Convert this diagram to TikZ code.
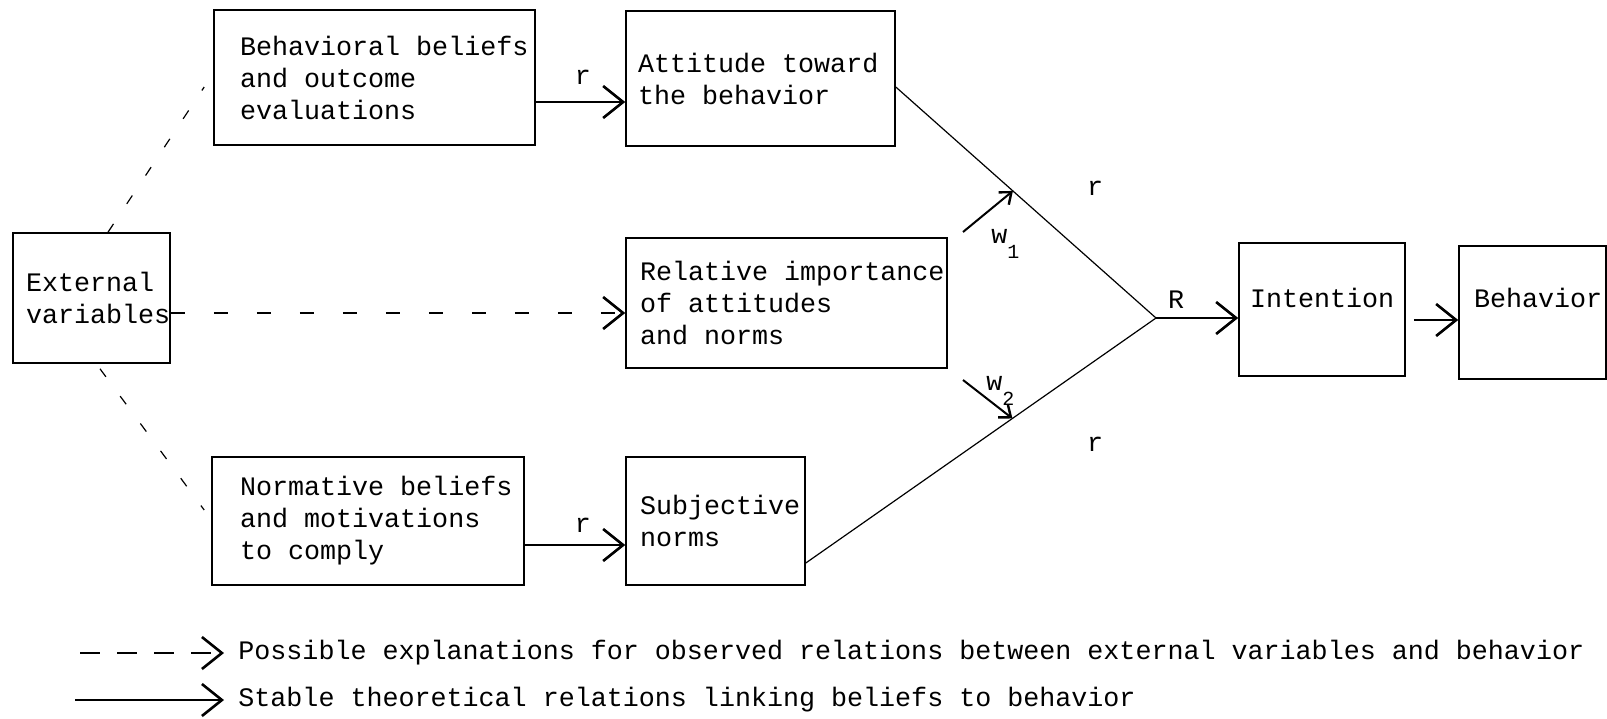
\documentclass[tikz,border=0pt]{standalone}
\usepackage{fontspec}
\newfontfamily\tw{Liberation Mono}
\usetikzlibrary{arrows.meta,calc}
\begin{document}
\begin{tikzpicture}[x=0.5pt,y=-0.5pt,
  every node/.style={font=\tw\fontsize{13.35}{16}\selectfont},
  box/.style={draw, line width=0.8pt, inner xsep=0pt, inner ysep=2pt, align=left},
  lpad/.style={execute at begin node={\leftskip=#1\relax\spaceskip=0pt\relax\xspaceskip=0pt\relax}},
  conn/.style={line width=0.6pt},
  tip/.style={-{Straight Barb[length=10pt,width=16pt,line width=1.3pt]}},
  smalltip/.style={-{Straight Barb[length=5pt,width=8pt,line width=1.2pt]}},
  dashh/.style={conn, dash pattern=on 7pt off 14.5pt},
  dashd/.style={conn, dash pattern=on 5pt off 12pt},
  dashl/.style={conn, dash pattern=on 10pt off 8.5pt},
  lbl/.style={inner sep=0pt}
]
\useasboundingbox (0,0) rectangle (1607,718);

% boxes
\node[box, lpad=6.5pt, text width=78.5pt, minimum height=65pt] (ext) at (91.5,298) {External\\variables};
\node[box, lpad=13pt, text width=160.5pt, minimum height=67.5pt] (beh) at (374.5,77.5) {Behavioral beliefs\\and outcome\\evaluations};
\node[box, lpad=6pt, text width=134.5pt, minimum height=67.5pt] (att) at (760.5,78.5) {Attitude toward\\the behavior};
\node[box, lpad=7pt, text width=160.5pt, minimum height=65pt] (rel) at (786.5,303) {Relative importance\\of attitudes\\and norms};
\node[box, lpad=14pt, text width=156pt, minimum height=64pt] (nor) at (368,521) {Normative beliefs\\and motivations\\to comply};
\node[box, lpad=7pt, text width=89.5pt, minimum height=64pt] (subj) at (715.5,521) {Subjective\\norms};
\node[box, lpad=5.5pt, text width=83pt, minimum height=66.5pt, text height=8pt, text depth=10.5pt] (int) at (1322,309.5) {Intention};
\node[box, lpad=7.5pt, text width=73.5pt, minimum height=66.5pt, text height=8pt, text depth=13.5pt] (bhv) at (1532.5,312.5) {Behavior};

% coordinates
\coordinate (J) at (1156,318);
\coordinate (A) at ([yshift=-4.25pt]att.east);
\coordinate (S) at ([yshift=-21pt]subj.east);
\coordinate (ba) at ([yshift=-12.25pt]beh.east);
\coordinate (ns) at ([yshift=-12pt]nor.east);
\coordinate (er) at ([yshift=-7.5pt]ext.east);
\coordinate (ib) at ([xshift=4pt,yshift=-5.25pt]int.east);

% solid arrows
\draw[conn,tip] (ba) -- (ba -| att.west);
\draw[conn,tip] (ns) -- (ns -| subj.west);
\draw[conn] (A) -- (J);
\draw[conn] (S) -- (J);
\draw[conn,tip] (J) -- (J -| int.west);
\draw[conn,tip] (ib) -- (ib -| bhv.west);

% dashed
\draw[dashh,tip] (er) -- (er -| rel.west);
\draw[dashd] ([xshift=8.25pt]ext.north) -- ([xshift=-4.5pt,yshift=-4.75pt]beh.west);
\draw[dashd] ([xshift=4.25pt,yshift=-2.5pt]ext.south) -- ([xshift=-3.5pt,yshift=5.5pt]nor.west);

% weights
\coordinate (w1s) at (963,232);
\coordinate (w1e) at ($(A)!0.45!(J)$);
\coordinate (w2s) at (963,380);
\coordinate (w2e) at ($(S)!0.59!(J)$);
\draw[line width=1pt,smalltip] (w1s) -- (w1e);
\draw[line width=1pt,smalltip] (w2s) -- (w2e);

% labels
\node[lbl] (r1) at (583,77) {r};
\node[lbl] (r2) at (583,525) {r};
\node[lbl] (r3) at (1095,188) {r};
\node[lbl] (r4) at (1095,444) {r};
\node[lbl] (R) at (1176,300) {R};
\node[lbl, anchor=base west] (w1) at (991,243) {w\raisebox{-7.5pt}{\fontsize{10}{10}\selectfont 1}};
\node[lbl, anchor=base west] (w2) at (986,390) {w\raisebox{-7.5pt}{\fontsize{10}{10}\selectfont 2}};

% legend
\coordinate (l1s) at (80,653);
\coordinate (l1e) at (224,653);
\coordinate (l2s) at (75,700);
\coordinate (l2e) at (224,700);
\draw[dashl,tip] (l1s) -- (l1e);
\draw[conn,tip] (l2s) -- (l2e);
\node[lbl, anchor=base west] (t1) at (238,659) {Possible explanations for observed relations between external variables and behavior};
\node[lbl, anchor=base west] (t2) at (238,706) {Stable theoretical relations linking beliefs to behavior};
\end{tikzpicture}
\end{document}
